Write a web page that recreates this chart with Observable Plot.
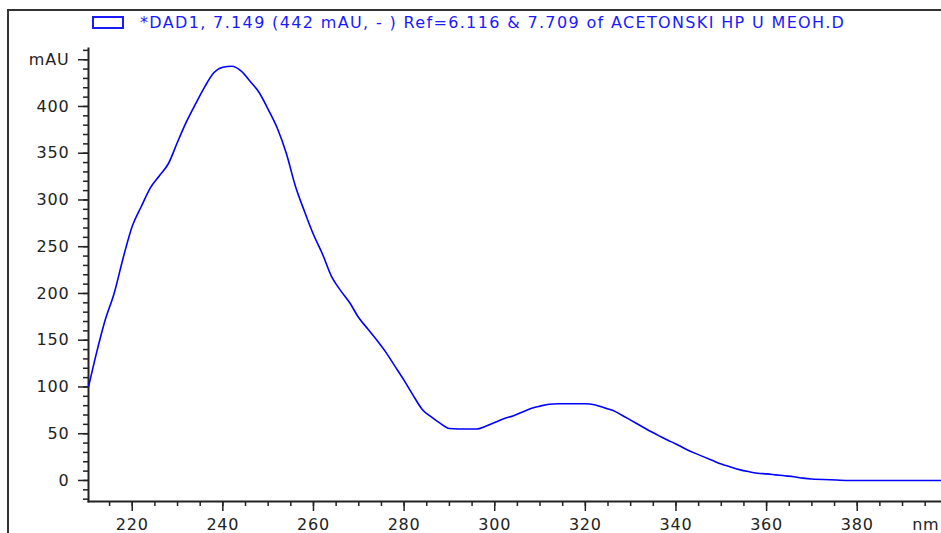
<!DOCTYPE html>
<html>
<head>
<meta charset="utf-8">
<script src="https://cdn.jsdelivr.net/npm/d3@7"></script>
<script src="https://cdn.jsdelivr.net/npm/@observablehq/plot@0.6"></script>
<style>
  html, body { margin: 0; padding: 0; background: #fff; }
  #wrap { position: relative; width: 941px; height: 533px; overflow: hidden; background: #fff; }
  #frame { position: absolute; left: 7px; top: 9px; right: -10px; bottom: -10px;
           border-top: 2px solid #333; border-left: 2px solid #333; pointer-events: none; }
  #legend { position: absolute; left: 92px; top: 15px; font-family: "DejaVu Sans", sans-serif;
            font-size: 16px; line-height: 1; color: #1a1aff; white-space: nowrap; letter-spacing: 1.35px; }
  #legend .box { display: inline-block; width: 28px; height: 9px; border: 2px solid #1a1aff;
                 vertical-align: -1px; margin-right: 16px; }
  #chart { position: absolute; left: 0; top: 0; }
</style>
</head>
<body>
<div id="wrap">
  <div id="chart"></div>
  <div id="frame"></div>
  <div id="legend"></div>
</div>
<script>
// Spectrum data (wavelength in nm, absorbance in mAU)
const wavelength = [210.4, 212, 214, 216, 218, 220, 222, 224, 226, 228, 230, 232, 234, 236, 238, 240, 242, 244, 246, 248,
  250, 252, 254, 256, 258, 260, 262, 264, 266, 268, 270, 272, 274, 276, 278, 280, 282, 284, 286, 288,
  290, 292, 294, 296, 298, 300, 302, 304, 306, 308, 310, 312, 314, 316, 318, 320, 322, 324, 326, 328,
  330, 332, 334, 336, 338, 340, 342, 344, 346, 348, 350, 352, 354, 356, 358, 360, 362, 364, 366, 368,
  370, 374, 378, 380, 390, 398.6];
const absorbance = [101, 134, 171, 200, 238, 272, 293, 313, 326, 339, 362, 384, 403, 421, 436, 442, 443, 438, 427, 415,
  397, 377, 350, 315, 288, 263, 242, 218, 203, 190, 174, 162, 150, 137, 122, 107, 91, 76, 68, 61,
  55.5, 55, 55, 55, 58, 62, 66, 69, 73, 77, 79.5, 81.5, 82, 82, 82, 82, 81, 78, 75, 70,
  64.5, 59, 53.5, 48.5, 43.5, 39, 34, 29.5, 25.5, 21.5, 17.5, 14.5, 11.6, 9.5, 7.8, 7, 6, 5, 4, 2.5,
  1.5, 0.8, 0, 0, 0, 0];

const xTicksMajor = [220, 240, 260, 280, 300, 320, 340, 360, 380];
const xTicksMinor = d3.range(215, 400, 5);
const yTicksMajor = [0, 50, 100, 150, 200, 250, 300, 350, 400, 450];
const yTicksMinor = d3.range(-20, 461, 10);
const yUnit = "mAU";
const xUnit = "nm";
const legendText = "*DAD1, 7.149 (442 mAU, - ) Ref=6.116 & 7.709 of ACETONSKI HP U MEOH.D";

const rows = wavelength.map((w, i) => ({nm: w, mAU: absorbance[i]}));

document.getElementById("legend").innerHTML = '<span class="box"></span>' + legendText;

const axisColor = "#222";
const font = "DejaVu Sans, sans-serif";

const chart = Plot.plot({
  width: 941,
  height: 533,
  marginLeft: 88,
  marginRight: 0,
  marginTop: 48,
  marginBottom: 32,
  style: {fontFamily: font, fontSize: "16px", color: axisColor, background: "transparent", overflow: "hidden", letterSpacing: "0.8px"},
  x: {domain: [210.35, 398.6], label: null},
  y: {domain: [-22.5, 462], label: null},
  marks: [
    Plot.axisY(yTicksMinor, {tickSize: 5, tickFormat: () => "", label: null, stroke: axisColor, strokeWidth: 1.5}),
    Plot.axisY(yTicksMajor, {tickSize: 10, tickPadding: 9, label: null, stroke: axisColor, strokeWidth: 1.5,
      tickFormat: d => d === 450 ? yUnit : String(d), fontSize: 16, fill: axisColor}),
    Plot.axisX(xTicksMinor, {tickSize: 5, tickFormat: () => "", label: null, stroke: axisColor, strokeWidth: 1.5}),
    Plot.axisX(xTicksMajor, {tickSize: 10, tickPadding: 7, label: null, stroke: axisColor, strokeWidth: 1.5,
      fontSize: 16, fill: axisColor}),
    Plot.frame({anchor: "left", stroke: axisColor, strokeWidth: 2}),
    Plot.frame({anchor: "bottom", stroke: axisColor, strokeWidth: 2}),
    Plot.text([xUnit], {frameAnchor: "bottom-right", textAnchor: "end", lineAnchor: "top",
      dx: -2, dy: 17, fontSize: 16, fill: axisColor}),
    Plot.line(rows, {x: "nm", y: "mAU", stroke: "#0000ff", strokeWidth: 1.6, curve: "monotone-x"})
  ]
});
document.getElementById("chart").appendChild(chart);
</script>
</body>
</html>
